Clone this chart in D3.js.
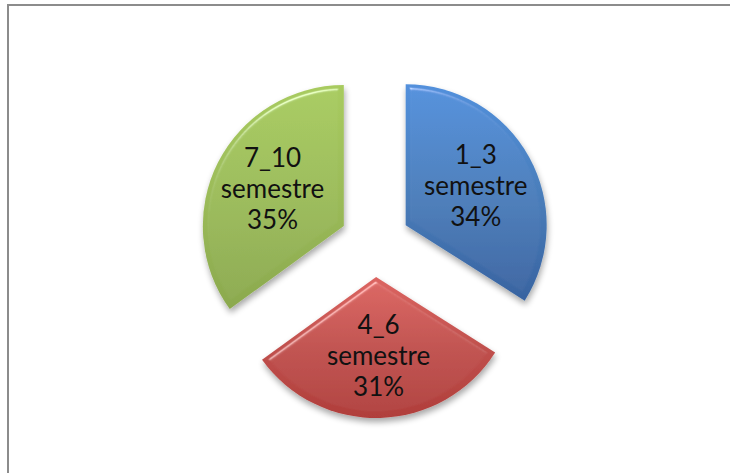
<!DOCTYPE html>
<html>
<head>
<meta charset="utf-8">
<script src="https://cdn.jsdelivr.net/npm/d3@7"></script>
<style>
  html, body { margin: 0; padding: 0; background: #fff; }
  svg { display: block; }
</style>
</head>
<body>
<svg id="chart" width="730" height="473"></svg>
<script>
// Share of students by semester group
const categories = ["1_3", "4_6", "7_10"];
const values = [34, 31, 35];
const suffix = "semestre";
const fills = [
  { base: "#4a7ebb", light: "#5290dc", dark: "#3863a0" },
  { base: "#c0504d", light: "#dc6561", dark: "#b03e3b" },
  { base: "#9bbb59", light: "#a8cb5f", dark: "#8ba94e" }
];

const W = 730, H = 473;
const cx = 375, cy = 242;
const radius = 141;
const explode = 35;
const labelRadius = 80;

const svg = d3.select("#chart");
const defs = svg.append("defs");

// chart frame
svg.append("rect")
  .attr("x", 8).attr("y", 5)
  .attr("width", 760).attr("height", 500)
  .attr("fill", "#fff")
  .attr("stroke", "#8c8c8c")
  .attr("stroke-width", 2);

// bevelled look with a soft drop shadow
const f = defs.append("filter").attr("id", "bevel")
  .attr("x", "-20%").attr("y", "-20%").attr("width", "140%").attr("height", "140%");
f.append("feGaussianBlur").attr("in", "SourceAlpha").attr("stdDeviation", 2.5).attr("result", "blur");
const spec = f.append("feSpecularLighting").attr("in", "blur")
  .attr("surfaceScale", 4).attr("specularConstant", 0.45).attr("specularExponent", 60)
  .attr("lighting-color", "#ffffff").attr("result", "spec");
spec.append("feDistantLight").attr("azimuth", 250).attr("elevation", 50);
f.append("feComposite").attr("in", "spec").attr("in2", "SourceAlpha").attr("operator", "in").attr("result", "specIn");
f.append("feComposite").attr("in", "SourceGraphic").attr("in2", "specIn")
  .attr("operator", "arithmetic").attr("k1", 0).attr("k2", 1).attr("k3", 1).attr("k4", 0).attr("result", "lit");
f.append("feGaussianBlur").attr("in", "SourceAlpha").attr("stdDeviation", 3).attr("result", "sblur");
f.append("feOffset").attr("in", "sblur").attr("dx", 1).attr("dy", 4).attr("result", "soff");
f.append("feComponentTransfer").attr("in", "soff").attr("result", "shadow")
  .append("feFuncA").attr("type", "linear").attr("slope", 0.35);
const merge = f.append("feMerge");
merge.append("feMergeNode").attr("in", "shadow");
merge.append("feMergeNode").attr("in", "lit");

fills.forEach((c, i) => {
  const g = defs.append("linearGradient").attr("id", "grad" + i)
    .attr("x1", 0).attr("y1", 0).attr("x2", 0).attr("y2", 1);
  g.append("stop").attr("offset", "0%").attr("stop-color", c.light);
  g.append("stop").attr("offset", "50%").attr("stop-color", c.base);
  g.append("stop").attr("offset", "100%").attr("stop-color", c.dark);
});

const pie = d3.pie().sort(null).value(d => d);
const arcs = pie(values);
const arc = d3.arc().innerRadius(0).outerRadius(radius);
const labelArc = d3.arc().innerRadius(labelRadius).outerRadius(labelRadius);

const root = svg.append("g").attr("transform", `translate(${cx},${cy})`);

const slice = root.selectAll("g.slice").data(arcs).join("g")
  .attr("class", "slice")
  .attr("transform", d => {
    const a = (d.startAngle + d.endAngle) / 2;
    return `translate(${Math.sin(a) * explode},${-Math.cos(a) * explode})`;
  });

slice.append("path")
  .attr("d", arc)
  .attr("fill", (d, i) => `url(#grad${i})`)
  .attr("filter", "url(#bevel)");

const label = slice.append("text")
  .attr("transform", d => `translate(${labelArc.centroid(d)})`)
  .attr("text-anchor", "middle")
  .attr("font-family", "Lato, 'Open Sans', sans-serif")
  .attr("font-size", 26)
  .attr("fill", "#111");

label.each(function(d, i) {
  const t = d3.select(this);
  const lines = [categories[i], suffix, d3.format(".0%")(d.data / 100)];
  lines.forEach((s, k) => {
    t.append("tspan").attr("x", 0).attr("y", (k - 1) * 31 + 8).text(s);
  });
});
</script>
</body>
</html>
